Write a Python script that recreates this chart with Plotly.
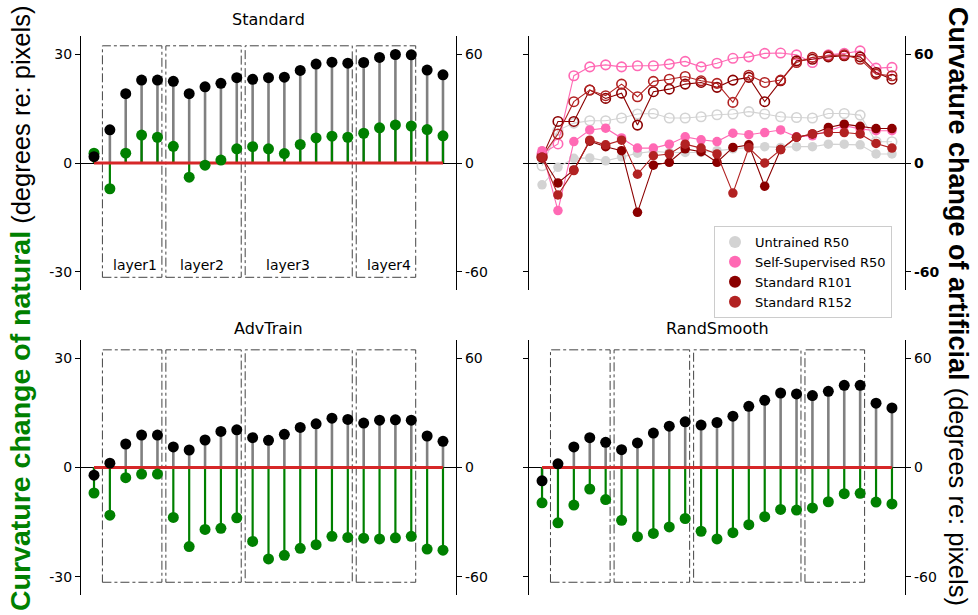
import plotly.graph_objects as go

# ---------------- data ----------------
idx = list(range(23))

std_nat = [2.7, -7.1, 2.7, 7.7, 7.1, 4.6, -3.9, -0.6, 0.8, 3.9, 4.5, 3.9, 2.6, 5.1, 6.9, 7.4, 7.1, 8.2, 9.7, 10.5, 10.2, 9.2, 7.5]
std_art = [3.5, 18.3, 38.2, 45.7, 45.7, 45.0, 38.2, 42.0, 43.9, 47.0, 46.1, 47.0, 47.3, 51.0, 54.5, 55.6, 55.0, 55.4, 58.2, 59.8, 59.6, 51.2, 48.6]
adv_nat = [-7.0, -13.1, -2.8, -1.8, -1.8, -13.7, -21.7, -17.0, -16.7, -13.8, -20.3, -25.1, -24.1, -22.2, -21.2, -18.9, -19.2, -19.4, -19.6, -19.3, -18.9, -22.4, -22.7]
adv_art = [-4.2, 2.4, 12.9, 17.8, 17.8, 11.3, 9.6, 15.1, 19.8, 20.7, 16.4, 14.9, 18.2, 22.0, 24.0, 27.1, 26.4, 24.4, 26.0, 26.2, 26.0, 17.3, 14.4]
rs_nat = [-9.7, -15.2, -10.3, -5.9, -8.8, -14.5, -19.0, -18.1, -16.3, -14.0, -17.5, -19.6, -17.9, -15.7, -13.5, -11.5, -11.7, -11.1, -9.4, -7.2, -7.1, -9.5, -10.0]
rs_art = [-7.3, 2.0, 11.3, 16.4, 13.8, 9.8, 13.5, 18.9, 22.7, 25.1, 23.3, 24.7, 28.2, 33.6, 36.9, 40.9, 40.4, 39.5, 41.8, 45.1, 45.1, 35.3, 32.7]

models = ["Untrained R50", "Self-Supervised R50", "Standard R101", "Standard R152"]
untrained_nat = [-6.0, -1.2, 1.3, 1.4, 0.6, 1.7, 2.7, 3.2, 2.9, 2.9, 2.9, 3.4, 3.9, 4.3, 4.5, 4.3, 4.5, 4.5, 5.2, 5.2, 5.0, 2.5, 2.5]
untrained_art = [-1.5, 18.0, 22.0, 23.3, 23.3, 24.8, 27.0, 27.3, 24.8, 24.8, 25.5, 26.6, 27.0, 28.3, 27.0, 25.5, 25.1, 24.8, 27.3, 27.3, 26.4, 11.7, 11.7]
selfsup_nat = [3.4, -13.1, 5.9, 9.1, 9.6, 6.9, 4.1, 4.1, 5.2, 7.2, 6.4, 5.9, 8.2, 7.8, 8.4, 9.1, 7.2, 7.5, 8.9, 10.3, 9.4, 8.9, 8.9]
selfsup_art = [5.0, 10.5, 48.1, 53.0, 54.1, 53.0, 53.6, 53.6, 54.5, 56.0, 53.0, 55.0, 57.7, 58.5, 60.4, 60.6, 59.6, 55.4, 59.6, 60.4, 61.8, 52.3, 52.7]
r101_nat = [1.6, -5.5, -1.9, 6.0, 4.5, 3.4, -13.6, -0.6, 0.2, 3.9, 3.1, 0.2, 4.3, 5.0, -6.4, 3.7, 7.1, 8.0, 9.8, 10.7, 10.1, 9.5, 9.5]
r101_art = [3.1, 22.9, 22.9, 40.2, 35.6, 38.5, 20.9, 39.3, 40.7, 43.5, 44.4, 41.7, 45.7, 47.2, 33.8, 45.3, 56.3, 57.2, 58.5, 59.1, 58.5, 49.9, 46.2]
r152_nat = [1.6, -8.8, -2.1, 6.3, 5.0, 6.3, -3.1, 2.0, 2.5, 5.2, 4.1, 2.5, -8.3, 4.2, 0.0, 3.7, 7.1, 8.0, 8.4, 8.4, 8.0, 5.4, 4.1]
r152_art = [3.5, 16.0, 33.8, 40.2, 37.1, 43.5, 36.5, 45.0, 46.2, 47.7, 45.3, 43.9, 33.4, 48.4, 44.4, 45.7, 55.4, 58.2, 59.1, 59.6, 57.2, 49.0, 48.1]

layer_names = ["layer1", "layer2", "layer3", "layer4"]
layer_first = [1, 5, 10, 17]
layer_last = [4, 9, 16, 20]

nat_ticks = [-30, 0, 30]
art_ticks = [-60, 0, 60]

# ---------------- style / layout ----------------
W, H = 978, 615
model_colors = ["#d3d3d3", "#ff69b4", "#8b0000", "#b22222"]
GREEN = "#008000"
FONT = "DejaVu Sans"

def px_x(a, b):
    return [a / W, b / W]

def px_y(top, bottom):
    return [1 - bottom / H, 1 - top / H]

panels = {
    1: dict(xd=px_x(81, 456), yd=px_y(36, 290), leftlabels=True),
    2: dict(xd=px_x(529, 905), yd=px_y(36, 290), leftlabels=False),
    3: dict(xd=px_x(81, 456), yd=px_y(340, 595), leftlabels=True),
    4: dict(xd=px_x(529, 905), yd=px_y(340, 595), leftlabels=False),
}

fig = go.Figure()
layout = dict(
    width=W, height=H, margin=dict(l=0, r=0, t=0, b=0),
    paper_bgcolor="white", plot_bgcolor="rgba(0,0,0,0)",
    font=dict(family=FONT, size=14, color="black"),
    showlegend=True,
)

xr = [idx[0] - 0.82, idx[-1] + 0.82]
for p, cfg in panels.items():
    layout[f"xaxis{p}"] = dict(domain=cfg["xd"], range=xr, visible=False, anchor=f"y{p}")
    layout[f"yaxis{p}"] = dict(
        domain=cfg["yd"], anchor=f"x{p}", side="right", range=[-70, 70],
        tickvals=art_ticks, ticktext=[str(v) for v in art_ticks],
        ticks="outside", ticklen=5, tickwidth=1.2, tickcolor="black",
        showline=True, linecolor="black", linewidth=1.3, showgrid=False,
        zeroline=True, zerolinecolor="black", zerolinewidth=1,
        tickfont=dict(family=FONT, size=14, weight="bold" if p == 2 else "normal"),
    )
    layout[f"yaxis{p+4}"] = dict(
        overlaying=f"y{p}", anchor=f"x{p}", side="left", range=[-35, 35],
        tickvals=nat_ticks, ticktext=[str(v) for v in nat_ticks],
        showticklabels=cfg["leftlabels"],
        ticks="outside", ticklen=5, tickwidth=1.2, tickcolor="black",
        showline=True, linecolor="black", linewidth=1.3, showgrid=False, zeroline=False,
        tickfont=dict(family=FONT, size=14),
    )
    layout[f"yaxis{p+8}"] = dict(overlaying=f"y{p}", anchor=f"x{p}", range=[-70, 70], visible=False)


def stems(vals):
    xs, ys = [], []
    for i, v in zip(idx, vals):
        xs += [i, i, None]
        ys += [0, v, None]
    return xs, ys

stem_panels = {1: (std_nat, std_art), 3: (adv_nat, adv_art), 4: (rs_nat, rs_art)}
for p, (nat, art) in stem_panels.items():
    sx, sy = stems(art)
    fig.add_trace(go.Scatter(x=sx, y=sy, mode="lines", line=dict(color="#808080", width=2.6),
                             xaxis=f"x{p}", yaxis=f"y{p}", showlegend=False, hoverinfo="skip"))
    gx, gy = stems(nat)
    fig.add_trace(go.Scatter(x=gx, y=gy, mode="lines", line=dict(color=GREEN, width=2.2),
                             xaxis=f"x{p}", yaxis=f"y{p+4}", showlegend=False, hoverinfo="skip"))
    fig.add_trace(go.Scatter(x=[idx[0], idx[-1]], y=[0, 0], mode="lines",
                             line=dict(color="#d62728", width=3),
                             xaxis=f"x{p}", yaxis=f"y{p+4}", showlegend=False))
    fig.add_trace(go.Scatter(x=idx, y=nat, mode="markers", marker=dict(color=GREEN, size=11),
                             xaxis=f"x{p}", yaxis=f"y{p+4}", showlegend=False))
    fig.add_trace(go.Scatter(x=idx, y=art, mode="markers", marker=dict(color="black", size=11),
                             xaxis=f"x{p}", yaxis=f"y{p+8}", showlegend=False))

# top-right panel: model comparison
nat_series = [untrained_nat, selfsup_nat, r101_nat, r152_nat]
art_series = [untrained_art, selfsup_art, r101_art, r152_art]
for name, col, art in zip(models, model_colors, art_series):
    fig.add_trace(go.Scatter(x=idx, y=art, mode="lines+markers", line=dict(color=col, width=1.1),
                             marker=dict(symbol="circle-open", size=9.5, color=col, line=dict(width=1.6)),
                             xaxis="x2", yaxis="y2", showlegend=False, name=name))
for name, col, nat in zip(models, model_colors, nat_series):
    fig.add_trace(go.Scatter(x=idx, y=nat, mode="lines+markers", line=dict(color=col, width=1.1),
                             marker=dict(size=9.5, color=col),
                             xaxis="x2", yaxis="y6", showlegend=False, name=name))
for name, col in zip(models, model_colors):
    fig.add_trace(go.Scatter(x=[None], y=[None], mode="markers", marker=dict(size=11, color=col),
                             xaxis="x2", yaxis="y6", name=name, showlegend=True))

layout["legend"] = dict(
    x=714 / W, y=1 - 226 / H, xanchor="left", yanchor="top",
    bgcolor="rgba(255,255,255,0.85)", bordercolor="#cccccc", borderwidth=1,
    font=dict(family=FONT, size=13), tracegroupgap=0, itemsizing="constant",
)

# layer boxes & labels
shapes = []
annotations = []
for p in stem_panels:
    for f, l in zip(layer_first, layer_last):
        shapes.append(dict(type="rect", xref=f"x{p}", yref=f"y{p+4}",
                           x0=f - 0.47, x1=l + 0.28, y0=-31.5, y1=32.3,
                           line=dict(color="#444444", width=1, dash="dashdot"), layer="below"))
label_x = [2.6, 6.8, 12.2, 18.6]
for name, lx in zip(layer_names, label_x):
    annotations.append(dict(x=lx, y=-28.2, xref="x1", yref="y5", text=name, showarrow=False,
                            xanchor="center", yanchor="middle",
                            font=dict(family=FONT, size=14)))

titles = [("Standard", 1, 20), ("AdvTrain", 3, 328), ("RandSmooth", 4, 328)]
for t, p, ypx in titles:
    xd = panels[p]["xd"]
    annotations.append(dict(x=(xd[0] + xd[1]) / 2, y=1 - ypx / H, xref="paper", yref="paper",
                            xanchor="center", yanchor="middle",
                            text=t, showarrow=False, font=dict(family=FONT, size=16)))

annotations.append(dict(
    x=20 / W, y=1 - 309 / H, xref="paper", yref="paper", textangle=-90, showarrow=False,
    xanchor="center", yanchor="middle",
    text='<span style="color:#008000;font-size:28.5px"><b>Curvature change of natural</b></span> (degrees re: pixels)',
    font=dict(family="Liberation Sans", size=25.5, color="black")))
annotations.append(dict(
    x=958 / W, y=1 - 306 / H, xref="paper", yref="paper", textangle=90, showarrow=False,
    xanchor="center", yanchor="middle",
    text='<span style="font-size:27px"><b>Curvature change of artificial</b></span> (degrees re: pixels)',
    font=dict(family="Liberation Sans", size=25.5, color="black")))

layout["shapes"] = shapes
layout["annotations"] = annotations
fig.update_layout(**layout)
fig.write_html("out.html", config={"displayModeBar": False},
               post_script="document.body.style.margin='0';document.body.style.overflow='hidden';")
